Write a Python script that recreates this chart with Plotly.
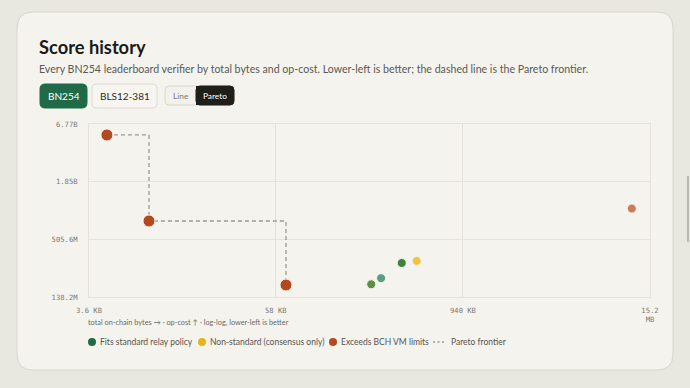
import plotly.graph_objects as go
import math

# ---- data ----
pareto_bytes = [4700, 8790, 67500]
pareto_cost = [5.29e9, 7.64e8, 1.81e8]

std_bytes = [240000, 278000, 378000]
std_cost = [1.84e8, 2.11e8, 2.97e8]
std_colors = ["#5b8f45", "#5c9c82", "#3f803b"]

nonstd_bytes = [472000]
nonstd_cost = [3.11e8]

exceed_bytes = [11.6e6]
exceed_cost = [1.01e9]

x_ticks = [3600, 58000, 940000, 15.2e6]
x_ticklabels = ["3.6 KB", "58 KB", "940 KB", "15.2<br>MB"]
y_ticks = [138.2e6, 505.6e6, 1.85e9, 6.77e9]
y_ticklabels = ["138.2M", "505.6M", "1.85B", "6.77B"]

# ---- layout geometry (pixels) ----
WIDTH, HEIGHT = 690, 388
L, R, T, B = 89, 40, 124, 91
PW = WIDTH - L - R
PH = HEIGHT - T - B


def px(x):
    return (x - L) / PW


def py(y):
    return (HEIGHT - B - y) / PH


def rounded_rect(x0, y0, x1, y1, r):
    rx = r / PW
    ry = r / PH
    X0, X1 = px(x0), px(x1)
    Y0, Y1 = py(y0), py(y1)  # Y0 top (bigger), Y1 bottom
    return (f"M {X0+rx},{Y0} L {X1-rx},{Y0} Q {X1},{Y0} {X1},{Y0-ry} "
            f"L {X1},{Y1+ry} Q {X1},{Y1} {X1-rx},{Y1} "
            f"L {X0+rx},{Y1} Q {X0},{Y1} {X0},{Y1+ry} "
            f"L {X0},{Y0-ry} Q {X0},{Y0} {X0+rx},{Y0} Z")


PAGE_BG = "#e9e8e0"
CARD_BG = "#f4f3ee"
GRID = "#e4e2da"
SANS = "Lato, Noto Sans, sans-serif"
MONO = "DejaVu Sans Mono, monospace"

fig = go.Figure()

# Pareto frontier
fig.add_trace(go.Scatter(
    x=pareto_bytes, y=pareto_cost, mode="lines",
    line=dict(color="#9b9990", width=1.3, dash="4px,3px", shape="hv"),
    hoverinfo="skip", showlegend=False))

fig.add_trace(go.Scatter(
    x=std_bytes, y=std_cost, mode="markers",
    marker=dict(size=9, color=std_colors, line=dict(color="#f4f3ee", width=1)),
    showlegend=False))
fig.add_trace(go.Scatter(
    x=nonstd_bytes, y=nonstd_cost, mode="markers",
    marker=dict(size=9, color="#f0c53e", line=dict(color="#f4f3ee", width=1)),
    showlegend=False))
fig.add_trace(go.Scatter(
    x=exceed_bytes, y=exceed_cost, mode="markers",
    marker=dict(size=9, color="#c97c5a", line=dict(color="#f4f3ee", width=1)),
    showlegend=False))
fig.add_trace(go.Scatter(
    x=pareto_bytes, y=pareto_cost, mode="markers",
    marker=dict(size=12, color="#b4481f", line=dict(color="#f4f3ee", width=1)),
    showlegend=False))

shapes = []
# card
shapes.append(dict(type="path", xref="paper", yref="paper",
                   path=rounded_rect(17, 12, 673, 370, 16),
                   fillcolor=CARD_BG, line=dict(color="#d8d6cc", width=1),
                   layer="below"))
# scrollbar
shapes.append(dict(type="line", xref="paper", yref="paper",
                   x0=px(688), x1=px(688), y0=py(176), y1=py(242),
                   line=dict(color="#b9b8b0", width=2)))
# buttons
shapes.append(dict(type="path", xref="paper", yref="paper",
                   path=rounded_rect(40, 84, 87, 108, 5),
                   fillcolor="#1f6b48", line=dict(color="#1f6b48", width=1)))
shapes.append(dict(type="path", xref="paper", yref="paper",
                   path=rounded_rect(92, 84, 157, 108, 5),
                   fillcolor="#f6f5f0", line=dict(color="#dcdad2", width=1)))
shapes.append(dict(type="path", xref="paper", yref="paper",
                   path=rounded_rect(165, 86, 234, 105, 4),
                   fillcolor="#f2f1ec", line=dict(color="#d8d6ce", width=1)))
shapes.append(dict(type="path", xref="paper", yref="paper",
                   path=rounded_rect(196, 86, 234, 105, 4),
                   fillcolor="#1f1f1a", line=dict(color="#1f1f1a", width=1)))
shapes.append(dict(type="rect", xref="paper", yref="paper",
                   x0=px(196), x1=px(202), y0=py(86), y1=py(105),
                   fillcolor="#1f1f1a", line=dict(width=0)))

# legend markers
for cx, col in [(92, "#1f6b48"), (202, "#e9b416"), (333, "#b4481f")]:
    shapes.append(dict(type="circle", xref="paper", yref="paper",
                       x0=px(cx - 4), x1=px(cx + 4), y0=py(346), y1=py(338),
                       fillcolor=col, line=dict(width=0)))
shapes.append(dict(type="line", xref="paper", yref="paper",
                   x0=px(433), x1=px(445), y0=py(342), y1=py(342),
                   line=dict(color="#9b9990", width=1.5, dash="2px,2.5px")))

annotations = []


def text(x, y, s, size, color, xanchor="left", family=SANS, bold=False):
    if bold:
        s = f"<b>{s}</b>"
    annotations.append(dict(xref="paper", yref="paper", x=px(x), y=py(y),
                            text=s, showarrow=False, xanchor=xanchor,
                            yanchor="middle", borderpad=0,
                            font=dict(family=family, size=size, color=color)))


text(38, 47, "Score history", 18.3, "#1a1a18", bold=True)
text(38, 69, "Every BN254 leaderboard verifier by total bytes and op-cost. "
     "Lower-left is better; the dashed line is the Pareto frontier.",
     10.6, "#5a5a55")
text(63.5, 96, "BN254", 10, "#ffffff", xanchor="center")
text(124.5, 96, "BLS12-381", 10, "#2a2a28", xanchor="center")
text(180.5, 96, "Line", 8.3, "#7a7a75", xanchor="center")
text(215, 96, "Pareto", 8.3, "#ffffff", xanchor="center")
text(87, 322, "total on-chain bytes → · op-cost ↑ · log-log, lower-left is better",
     7.3, "#6b6b66")
text(99, 342, "Fits standard relay policy", 8.5, "#555550")
text(209, 342, "Non-standard (consensus only)", 8.5, "#555550")
text(340, 342, "Exceeds BCH VM limits", 8.5, "#555550")
text(450, 342, "Pareto frontier", 8.5, "#555550")

fig.update_layout(
    width=WIDTH, height=HEIGHT,
    margin=dict(l=L, r=R, t=T, b=B),
    paper_bgcolor=PAGE_BG, plot_bgcolor=CARD_BG,
    shapes=shapes, annotations=annotations,
    showlegend=False,
    xaxis=dict(type="log",
               range=[math.log10(x_ticks[0]), math.log10(x_ticks[-1])],
               tickvals=x_ticks, ticktext=x_ticklabels,
               showgrid=True, gridcolor=GRID, gridwidth=1,
               showline=True, mirror=True, linecolor=GRID, linewidth=1,
               zeroline=False, ticks="", ticklabelstandoff=6,
               tickfont=dict(family=MONO, size=7.2, color="#7a7a74")),
    yaxis=dict(type="log",
               range=[math.log10(y_ticks[0]), math.log10(y_ticks[-1])],
               tickvals=y_ticks, ticktext=y_ticklabels,
               showgrid=True, gridcolor=GRID, gridwidth=1,
               showline=True, mirror=True, linecolor=GRID, linewidth=1,
               zeroline=False, ticks="", ticklabelstandoff=9,
               tickfont=dict(family=MONO, size=7.2, color="#7a7a74")),
)

fig.write_html("out.html")
